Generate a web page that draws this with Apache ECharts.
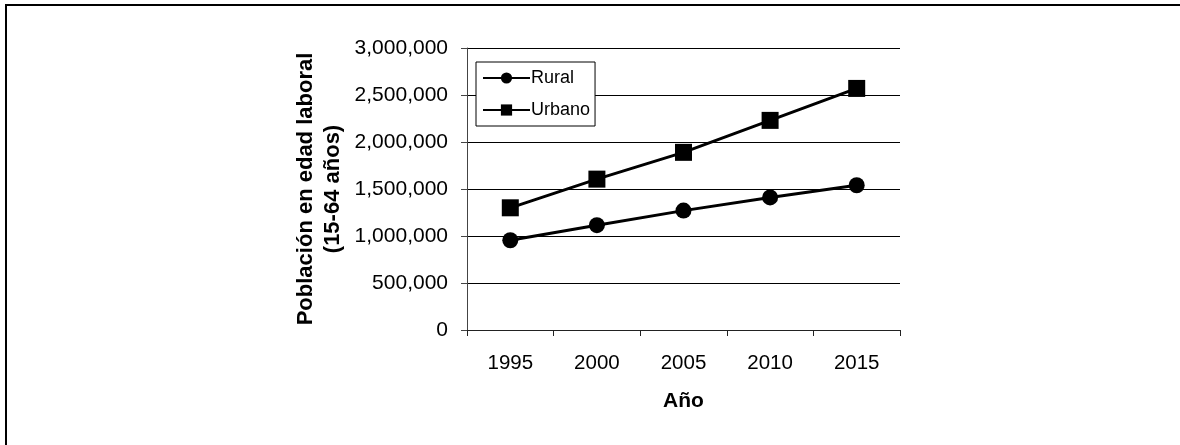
<!DOCTYPE html>
<html>
<head>
<meta charset="utf-8">
<title>Población en edad laboral</title>
<script src="https://cdn.jsdelivr.net/npm/echarts@6/dist/echarts.min.js"></script>
<style>
  html, body { margin: 0; padding: 0; background: #fff; }
  #chart { width: 1180px; height: 445px; }
</style>
</head>
<body>
<div id="chart"></div>
<script>
// Working-age population (15-64), rural vs urban
const years = ['1995', '2000', '2005', '2010', '2015'];
const rural = [955000, 1115000, 1270000, 1410000, 1540000];
const urbano = [1300000, 1605000, 1890000, 2230000, 2570000];
const seriesNames = ['Rural', 'Urbano'];

const FONT = '"Liberation Sans", Arial, sans-serif';

function thousands(v) {
  return String(v).replace(/\B(?=(\d{3})+(?!\d))/g, ',');
}

const chart = echarts.init(document.getElementById('chart'), null, { renderer: 'canvas' });

chart.setOption({
  backgroundColor: '#fff',
  animation: false,
  textStyle: { fontFamily: FONT, color: '#000' },
  graphic: [{
    type: 'polyline',
    shape: { points: [[6, 445], [6, 5], [1180, 5]] },
    style: { stroke: '#000', lineWidth: 2, fill: null }
  }],
  grid: { left: 467, right: 280, top: 48, bottom: 115 },
  legend: {
    orient: 'vertical',
    left: 476,
    top: 62,
    padding: [7, 5, 7, 6],
    itemWidth: 47,
    itemHeight: 14,
    itemGap: 14,
    backgroundColor: '#fff',
    borderColor: '#000',
    borderWidth: 1,
    borderRadius: 0,
    textStyle: { fontFamily: FONT, fontSize: 18, color: '#000', padding: [0, 0, 0, -4] },
    data: seriesNames
  },
  xAxis: {
    type: 'category',
    data: years,
    boundaryGap: true,
    name: 'Año',
    nameLocation: 'middle',
    nameGap: 61,
    nameTextStyle: { fontFamily: FONT, fontSize: 21, fontWeight: 'bold', color: '#000' },
    axisLine: { lineStyle: { color: '#222', width: 1 } },
    axisTick: { show: true, length: 6, alignWithLabel: false, lineStyle: { color: '#222' } },
    axisLabel: { fontFamily: FONT, fontSize: 20.5, color: '#000', margin: 23 },
    splitLine: { show: false }
  },
  yAxis: {
    type: 'value',
    min: 0,
    max: 3000000,
    interval: 500000,
    name: 'Población en edad laboral\n(15-64 años)',
    nameLocation: 'middle',
    nameRotate: 90,
    nameGap: 121,
    nameTextStyle: { fontFamily: FONT, fontSize: 22, fontWeight: 'bold', color: '#000', lineHeight: 27, align: 'center' },
    axisLine: { show: true, lineStyle: { color: '#444', width: 1 } },
    axisTick: { show: true, length: 6, lineStyle: { color: '#444' } },
    axisLabel: { fontFamily: FONT, fontSize: 21, color: '#000', margin: 19, formatter: thousands },
    splitLine: { show: true, lineStyle: { color: '#000', width: 1 } }
  },
  series: [
    {
      name: seriesNames[0],
      type: 'line',
      data: rural,
      symbol: 'circle',
      symbolSize: 16,
      lineStyle: { color: '#000', width: 3 },
      itemStyle: { color: '#000' },
      z: 3
    },
    {
      name: seriesNames[1],
      type: 'line',
      data: urbano,
      symbol: 'rect',
      symbolSize: 17,
      lineStyle: { color: '#000', width: 3 },
      itemStyle: { color: '#000' },
      z: 3
    }
  ]
});
</script>
</body>
</html>
